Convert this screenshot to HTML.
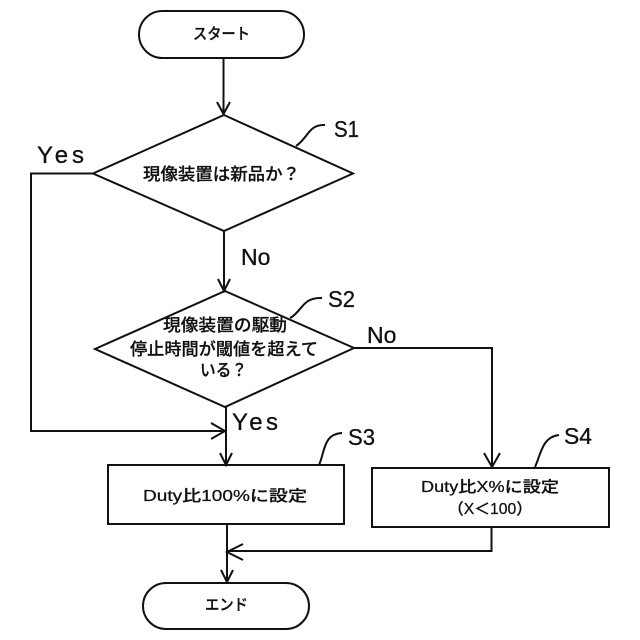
<!DOCTYPE html>
<html><head><meta charset="utf-8"><style>
html,body{margin:0;padding:0;background:#fff;width:640px;height:640px;overflow:hidden}
svg{display:block}
text{font-family:"Liberation Sans","Noto Sans CJK JP",sans-serif;fill:#111}
.j{font-size:17px;text-anchor:middle;font-weight:500;stroke:#111;stroke-width:.25}
.m{font-size:15.500px}
.l{font-size:24px;stroke:#111;stroke-width:.3}
.s{font-size:23px}
.d{stroke:#111;fill:none;stroke-width:2}
</style></head><body>
<svg width="640" height="640" viewBox="0 0 640 640" xmlns="http://www.w3.org/2000/svg">
<g class="d">
<rect x="139" y="11" width="165" height="47" rx="23.5" ry="23.5"/>
<path d="M223.500 58V114M217 102L223.500 114L230 102"/>
<path d="M224 115L353 173.500L224 231L93 173.500Z"/>
<path d="M224 231V291M218 279L224 291L230 279"/>
<path d="M93 173.500H31V431H225M211 423L225 431L211 439"/>
<path d="M225 291L354 348L225 407L95 349Z"/>
<path d="M226 407V465M220 453L226 465L232 453"/>
<rect x="108" y="465" width="236" height="59"/>
<path d="M354 348H492V467M484 453L492 467L500 453"/>
<rect x="372" y="468" width="237" height="59"/>
<path d="M491.500 527V551H227M243 544L227 552L243 560"/>
<path d="M227 524V582M221 570L227 582L233 570"/>
<rect x="143" y="583" width="166" height="46" rx="23" ry="23"/>
<path d="M296 146C308 138 309 124 325 125"/>
<path d="M290 318C302 312 302 297 322 298"/>
<path d="M319 465C325 452 323 434 342 433"/>
<path d="M535 467C541 454 542 437 559 435"/>
</g>
<text class="j m" x="221.500" y="39" textLength="57" lengthAdjust="spacingAndGlyphs">スタート</text>
<text class="j" x="221.500" y="180" textLength="157" lengthAdjust="spacingAndGlyphs">現像装置は新品か？</text>
<text class="j" x="225" y="331" textLength="124" lengthAdjust="spacingAndGlyphs">現像装置の駆動</text>
<text class="j" x="224" y="355" textLength="188" lengthAdjust="spacingAndGlyphs">停止時間が閾値を超えて</text>
<text class="j" x="223.500" y="376" textLength="47" lengthAdjust="spacingAndGlyphs">いる？</text>
<text class="j m" x="225" y="501" textLength="164" lengthAdjust="spacingAndGlyphs">Duty比100%に設定</text>
<text class="j m" x="490" y="492" textLength="138" lengthAdjust="spacingAndGlyphs">Duty比X%に設定</text>
<text class="j m" x="490" y="514" textLength="84" lengthAdjust="spacingAndGlyphs">（X＜100）</text>
<text class="j m" x="226.500" y="610" textLength="43" lengthAdjust="spacingAndGlyphs">エンド</text>
<text class="l" x="37" y="163" textLength="47" lengthAdjust="spacing">Yes</text>
<text class="l s" x="241" y="265">No</text>
<text class="l s" x="367" y="343">No</text>
<text class="l" x="232" y="430" textLength="46" lengthAdjust="spacing">Yes</text>
<text class="l s" x="334" y="137" textLength="25" lengthAdjust="spacingAndGlyphs">S1</text>
<text class="l s" x="328" y="307" textLength="27" lengthAdjust="spacingAndGlyphs">S2</text>
<text class="l s" x="348" y="445" textLength="27" lengthAdjust="spacingAndGlyphs">S3</text>
<text class="l s" x="564" y="444" textLength="28" lengthAdjust="spacingAndGlyphs">S4</text>
</svg>
</body></html>
